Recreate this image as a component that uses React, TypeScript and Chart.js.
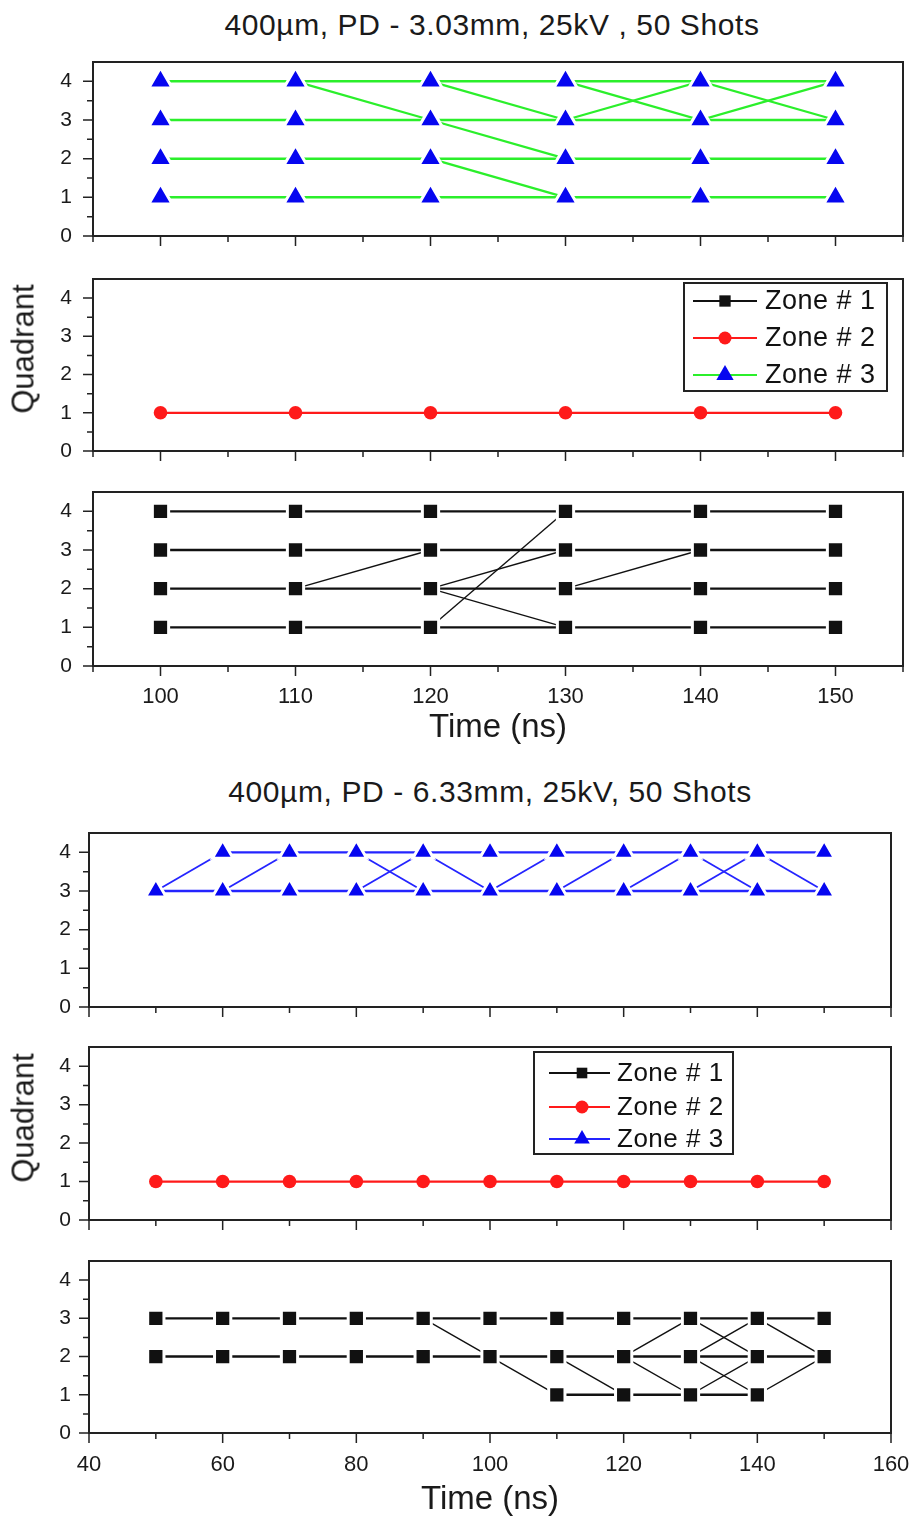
import React, { useEffect, useRef } from "react";
import { Chart, registerables } from "chart.js";

Chart.register(...registerables);

const FONT = "'Liberation Sans', Arial, Helvetica, sans-serif";
const PAGE_W = 913;
const PAD_TOP = 14;

type Q = number | null;

// ---------- PD 3.03 mm ----------
const TIME_303 = [100, 110, 120, 130, 140, 150];
const X_MAJOR_303 = [100, 110, 120, 130, 140, 150];
const X_MINOR_303 = [95, 105, 115, 125, 135, 145, 155];

// Zone # 3: quadrant held from shot to shot
const Z3_303_ROWS: Q[][] = [
  [4, 4, 4, 4, 4, 4],
  [3, 3, 3, 3, 3, 3],
  [2, 2, 2, 2, 2, 2],
  [1, 1, 1, 1, 1, 1],
];
// Zone # 3: quadrant changes
const Z3_303_JUMPS: Q[][] = [
  [null, 4, 3, 2, null, null],
  [null, null, 4, 3, null, null],
  [null, null, 2, 1, null, null],
  [null, null, null, 4, 3, 4],
  [null, null, null, 3, 4, 3],
];
const Z2_303_ROWS: Q[][] = [[1, 1, 1, 1, 1, 1]];
const Z1_303_ROWS: Q[][] = [
  [4, 4, 4, 4, 4, 4],
  [3, 3, 3, 3, 3, 3],
  [2, 2, 2, 2, 2, 2],
  [1, 1, 1, 1, 1, 1],
];
const Z1_303_JUMPS: Q[][] = [
  [null, 2, 3, null, null, null],
  [null, null, 1, 4, null, null],
  [null, null, 2, 3, null, null],
  [null, null, 2, 1, null, null],
  [null, null, null, 2, 3, null],
];

// ---------- PD 6.33 mm ----------
const TIME_633 = [50, 60, 70, 80, 90, 100, 110, 120, 130, 140, 150];
const X_MAJOR_633 = [40, 60, 80, 100, 120, 140, 160];
const X_MINOR_633 = [50, 70, 90, 110, 130, 150];

const Z3_633_ROWS: Q[][] = [
  [null, 4, 4, 4, 4, 4, 4, 4, 4, 4, 4],
  [3, 3, 3, 3, 3, 3, 3, 3, 3, 3, 3],
];
const Z3_633_JUMPS: Q[][] = [
  [3, 4, null, null, null, null, null, null, null, null, null],
  [null, 3, 4, null, null, null, null, null, null, null, null],
  [null, null, null, 3, 4, null, null, null, null, null, null],
  [null, null, null, 4, 3, null, null, null, null, null, null],
  [null, null, null, null, 4, 3, 4, null, null, null, null],
  [null, null, null, null, null, null, 3, 4, null, null, null],
  [null, null, null, null, null, null, null, 3, 4, null, null],
  [null, null, null, null, null, null, null, null, 4, 3, null],
  [null, null, null, null, null, null, null, null, 3, 4, null],
  [null, null, null, null, null, null, null, null, null, 4, 3],
];
const Z2_633_ROWS: Q[][] = [[1, 1, 1, 1, 1, 1, 1, 1, 1, 1, 1]];
const Z1_633_ROWS: Q[][] = [
  [3, 3, 3, 3, 3, 3, 3, 3, 3, 3, 3],
  [2, 2, 2, 2, 2, 2, 2, 2, 2, 2, 2],
  [null, null, null, null, null, null, 1, 1, 1, 1, null],
];
const Z1_633_JUMPS: Q[][] = [
  [null, null, null, null, 3, 2, 1, null, null, null, null],
  [null, null, null, null, null, null, 2, 1, null, null, null],
  [null, null, null, null, null, null, null, 2, 3, 2, null],
  [null, null, null, null, null, null, null, 2, 1, 2, null],
  [null, null, null, null, null, null, null, null, 2, 3, 2],
  [null, null, null, null, null, null, null, null, 2, 1, 2],
];

const Y_MAJOR = [0, 1, 2, 3, 4];
const Y_MINOR = [0.5, 1.5, 2.5, 3.5];
const Y_MAX = 4.5;

const LEGEND_LABELS = ["Zone # 1", "Zone # 2", "Zone # 3"];

// ---------- colours ----------
const BLACK = "#111111";
const RED = "#ff1a1a";
const GREEN = "#2bef2b";
const BLUE = "#0606f0";
const BLUE_LINE = "#2424ff";

type MarkerStyle = "rect" | "circle" | "triangle";

type LegendSpec = {
  box: { x: number; y: number; w: number; h: number };
  rowY: number[];
  lineX1: number;
  lineX2: number;
  markerX: number;
  textX: number;
  fontSize: number;
  items: { label: string; lineColor: string; markerColor: string; style: MarkerStyle; size: number }[];
};

type PanelSpec = {
  top: number;
  bottom: number;
  left: number;
  right: number;
  xMin: number;
  xMax: number;
  xMajor: number[];
  xMinor: number[];
  times: number[];
  rows: Q[][];
  jumps: Q[][];
  rowWidth: number;
  jumpWidth: number;
  lineColor: string;
  markerColor: string;
  markerStyle: MarkerStyle;
  markerRadius: number;
  halo: number;
  showXLabels: boolean;
  yLabelGap: number;
  xLabelGap: number;
  legend?: LegendSpec;
};

function drawMarker(ctx: CanvasRenderingContext2D, style: MarkerStyle, x: number, y: number, r: number, color: string) {
  ctx.fillStyle = color;
  ctx.beginPath();
  if (style === "rect") {
    const s = r * Math.SQRT1_2;
    ctx.rect(x - s, y - s, 2 * s, 2 * s);
  } else if (style === "triangle") {
    ctx.moveTo(x, y - r);
    ctx.lineTo(x + r * 0.866, y + r * 0.5);
    ctx.lineTo(x - r * 0.866, y + r * 0.5);
    ctx.closePath();
  } else {
    ctx.arc(x, y, r, 0, Math.PI * 2);
  }
  ctx.fill();
}

// Axis frame plus major / minor tick marks
const frameTicks = {
  id: "frameTicks",
  afterDatasetsDraw(chart: any, _args: any, o: any) {
    const { ctx, chartArea: ca, scales } = chart;
    const xs = scales.x;
    const ys = scales.y;
    ctx.save();
    ctx.strokeStyle = "#222";
    ctx.lineWidth = 1.5;
    ctx.beginPath();
    const tx = (v: number, len: number) => {
      const p = xs.getPixelForValue(v);
      ctx.moveTo(p, ca.bottom);
      ctx.lineTo(p, ca.bottom + len);
    };
    const ty = (v: number, len: number) => {
      const p = ys.getPixelForValue(v);
      ctx.moveTo(ca.left, p);
      ctx.lineTo(ca.left - len, p);
    };
    (o.xMajor || []).forEach((v: number) => tx(v, 10));
    (o.xMinor || []).forEach((v: number) => tx(v, 6));
    (o.yMajor || []).forEach((v: number) => ty(v, 10));
    (o.yMinor || []).forEach((v: number) => ty(v, 6));
    ctx.stroke();
    ctx.lineWidth = 2;
    ctx.strokeRect(ca.left, ca.top, ca.right - ca.left, ca.bottom - ca.top);
    ctx.restore();
  },
};

// Boxed legend placed inside the plot
const boxLegend = {
  id: "boxLegend",
  afterDraw(chart: any, _args: any, o: any) {
    if (!o || !o.items || !o.items.length) return;
    const { ctx } = chart;
    const dy = o.canvasTop;
    ctx.save();
    ctx.fillStyle = "#fff";
    ctx.fillRect(o.box.x, o.box.y - dy, o.box.w, o.box.h);
    ctx.lineWidth = 2;
    ctx.strokeStyle = "#222";
    ctx.strokeRect(o.box.x, o.box.y - dy, o.box.w, o.box.h);
    o.items.forEach((it: any, i: number) => {
      const y = o.rowY[i] - dy;
      ctx.strokeStyle = it.lineColor;
      ctx.lineWidth = 2;
      ctx.beginPath();
      ctx.moveTo(o.lineX1, y);
      ctx.lineTo(o.lineX2, y);
      ctx.stroke();
      drawMarker(ctx, it.style, o.markerX, y, it.size, it.markerColor);
      ctx.fillStyle = "#111";
      ctx.font = `${o.fontSize}px ${FONT}`;
      (ctx as any).letterSpacing = "0.5px";
      ctx.textBaseline = "middle";
      ctx.textAlign = "left";
      ctx.fillText(it.label, o.textX, y + 1);
    });
    ctx.restore();
  },
};

function toPoints(times: number[], path: Q[]) {
  return path.map((q, i) => ({ x: times[i], y: q }));
}

function Panel({ spec }: { spec: PanelSpec }) {
  const ref = useRef<HTMLCanvasElement>(null);
  const axisH = spec.showXLabels ? 52 : 18;
  const canvasTop = spec.top - PAD_TOP;
  const height = spec.bottom - spec.top + PAD_TOP + axisH;

  useEffect(() => {
    if (!ref.current) return;
    const { times } = spec;

    // every plotted (time, quadrant) pair gets one marker
    const seen = new Set<string>();
    const markers: { x: number; y: number }[] = [];
    [...spec.rows, ...spec.jumps].forEach((path) =>
      path.forEach((q, i) => {
        if (q == null) return;
        const k = `${times[i]}:${q}`;
        if (!seen.has(k)) {
          seen.add(k);
          markers.push({ x: times[i], y: q });
        }
      })
    );

    const lineSet = (path: Q[], width: number) => ({
      data: toPoints(times, path),
      borderColor: spec.lineColor,
      borderWidth: width,
      pointRadius: 0,
      spanGaps: false,
      tension: 0,
      fill: false,
      order: 1,
    });

    const datasets: any[] = [
      {
        data: markers,
        showLine: false,
        pointStyle: spec.markerStyle,
        pointRadius: spec.markerRadius,
        pointBackgroundColor: spec.markerColor,
        pointBorderColor: spec.halo > 0 ? "#ffffff" : spec.markerColor,
        pointBorderWidth: spec.halo,
        order: 0,
      },
      ...spec.rows.map((p) => lineSet(p, spec.rowWidth)),
      ...spec.jumps.map((p) => lineSet(p, spec.jumpWidth)),
    ];

    // invisible tick marks only set the gap between axis and labels
    const hiddenTicks = (len: number) => ({
      display: true,
      drawOnChartArea: false,
      drawTicks: true,
      tickLength: len,
      tickColor: "rgba(0,0,0,0)",
    });

    const chart = new Chart(ref.current, {
      type: "line",
      data: { datasets },
      plugins: [frameTicks, boxLegend],
      options: {
        animation: false,
        responsive: false,
        maintainAspectRatio: false,
        events: [],
        layout: {
          autoPadding: false,
          padding: { top: PAD_TOP, right: PAGE_W - spec.right, left: 0, bottom: 0 },
        },
        scales: {
          x: {
            type: "linear",
            min: spec.xMin,
            max: spec.xMax,
            afterBuildTicks: (s: any) => {
              s.ticks = spec.xMajor.map((v) => ({ value: v }));
            },
            afterFit: (s: any) => {
              s.height = axisH;
            },
            grid: hiddenTicks(spec.xLabelGap),
            border: { display: false },
            ticks: {
              display: spec.showXLabels,
              padding: 0,
              autoSkip: false,
              maxRotation: 0,
              color: "#1a1a1a",
              font: { family: FONT, size: 22 },
            },
          },
          y: {
            type: "linear",
            min: 0,
            max: Y_MAX,
            afterBuildTicks: (s: any) => {
              s.ticks = Y_MAJOR.map((v) => ({ value: v }));
            },
            afterFit: (s: any) => {
              s.width = spec.left;
            },
            grid: hiddenTicks(spec.yLabelGap),
            border: { display: false },
            ticks: {
              padding: 0,
              color: "#1a1a1a",
              font: { family: FONT, size: 21 },
            },
          },
        },
        plugins: {
          legend: { display: false },
          tooltip: { enabled: false },
          frameTicks: { xMajor: spec.xMajor, xMinor: spec.xMinor, yMajor: Y_MAJOR, yMinor: Y_MINOR },
          boxLegend: spec.legend ? { ...spec.legend, canvasTop } : { items: [] },
        } as any,
      },
    } as any);
    return () => chart.destroy();
  }, [spec]);

  return (
    <canvas
      ref={ref}
      width={PAGE_W}
      height={height}
      style={{ position: "absolute", left: 0, top: canvasTop, width: PAGE_W, height }}
    />
  );
}

const LEFT_A = 93;
const RIGHT_A = 903;
const LEFT_B = 89;
const RIGHT_B = 891;

const baseA = {
  left: LEFT_A,
  right: RIGHT_A,
  xMin: 95,
  xMax: 155,
  xMajor: X_MAJOR_303,
  xMinor: X_MINOR_303,
  times: TIME_303,
  yLabelGap: 21,
  xLabelGap: 18,
};
const baseB = {
  left: LEFT_B,
  right: RIGHT_B,
  xMin: 40,
  xMax: 160,
  xMajor: X_MAJOR_633,
  xMinor: X_MINOR_633,
  times: TIME_633,
  yLabelGap: 18,
  xLabelGap: 19,
};

const PANELS: PanelSpec[] = [
  {
    ...baseA,
    top: 62,
    bottom: 236,
    rows: Z3_303_ROWS,
    jumps: Z3_303_JUMPS,
    rowWidth: 2.5,
    jumpWidth: 2.3,
    lineColor: GREEN,
    markerColor: BLUE,
    markerStyle: "triangle",
    markerRadius: 13.5,
    halo: 3,
    showXLabels: false,
  },
  {
    ...baseA,
    top: 279,
    bottom: 451,
    rows: Z2_303_ROWS,
    jumps: [],
    rowWidth: 2.3,
    jumpWidth: 2.3,
    lineColor: RED,
    markerColor: RED,
    markerStyle: "circle",
    markerRadius: 6.8,
    halo: 0,
    showXLabels: false,
    legend: {
      box: { x: 684, y: 283, w: 203, h: 108 },
      rowY: [301, 338, 375],
      lineX1: 693,
      lineX2: 757,
      markerX: 725,
      textX: 765,
      fontSize: 27,
      items: [
        { label: LEGEND_LABELS[0], lineColor: BLACK, markerColor: BLACK, style: "rect", size: 8 },
        { label: LEGEND_LABELS[1], lineColor: RED, markerColor: RED, style: "circle", size: 6.5 },
        { label: LEGEND_LABELS[2], lineColor: GREEN, markerColor: BLUE, style: "triangle", size: 10 },
      ],
    },
  },
  {
    ...baseA,
    top: 492,
    bottom: 666,
    rows: Z1_303_ROWS,
    jumps: Z1_303_JUMPS,
    rowWidth: 2.4,
    jumpWidth: 1.4,
    lineColor: BLACK,
    markerColor: BLACK,
    markerStyle: "rect",
    markerRadius: 11.5,
    halo: 3,
    showXLabels: true,
  },
  {
    ...baseB,
    top: 833,
    bottom: 1007,
    rows: Z3_633_ROWS,
    jumps: Z3_633_JUMPS,
    rowWidth: 2.3,
    jumpWidth: 1.8,
    lineColor: BLUE_LINE,
    markerColor: BLUE,
    markerStyle: "triangle",
    markerRadius: 12,
    halo: 3,
    showXLabels: false,
  },
  {
    ...baseB,
    top: 1047,
    bottom: 1220,
    rows: Z2_633_ROWS,
    jumps: [],
    rowWidth: 2.3,
    jumpWidth: 2.3,
    lineColor: RED,
    markerColor: RED,
    markerStyle: "circle",
    markerRadius: 6.8,
    halo: 0,
    showXLabels: false,
    legend: {
      box: { x: 534, y: 1052, w: 199, h: 102 },
      rowY: [1073, 1107, 1139],
      lineX1: 549,
      lineX2: 610,
      markerX: 582,
      textX: 617,
      fontSize: 26,
      items: [
        { label: LEGEND_LABELS[0], lineColor: BLACK, markerColor: BLACK, style: "rect", size: 7.5 },
        { label: LEGEND_LABELS[1], lineColor: RED, markerColor: RED, style: "circle", size: 6.5 },
        { label: LEGEND_LABELS[2], lineColor: BLUE_LINE, markerColor: BLUE, style: "triangle", size: 9 },
      ],
    },
  },
  {
    ...baseB,
    top: 1261,
    bottom: 1433,
    rows: Z1_633_ROWS,
    jumps: Z1_633_JUMPS,
    rowWidth: 2.4,
    jumpWidth: 1.4,
    lineColor: BLACK,
    markerColor: BLACK,
    markerStyle: "rect",
    markerRadius: 11.5,
    halo: 3,
    showXLabels: true,
  },
];

const TEXTS = [
  { text: "400µm, PD - 3.03mm, 25kV , 50 Shots", x: 492, y: 25, size: 30, spacing: 0.6, rotate: false },
  { text: "Quadrant", x: 23, y: 349, size: 31, spacing: 0, rotate: true },
  { text: "Time (ns)", x: 498, y: 725, size: 33, spacing: 0, rotate: false },
  { text: "400µm, PD - 6.33mm, 25kV, 50 Shots", x: 490, y: 792, size: 30, spacing: 0.6, rotate: false },
  { text: "Quadrant", x: 23, y: 1118, size: 31, spacing: 0, rotate: true },
  { text: "Time (ns)", x: 490, y: 1497, size: 33, spacing: 0, rotate: false },
];

export default function App() {
  return (
    <div
      style={{
        position: "absolute",
        left: 0,
        top: 0,
        width: PAGE_W,
        height: 1517,
        background: "#fff",
        overflow: "hidden",
      }}
    >
      {PANELS.map((p, i) => (
        <Panel key={i} spec={p} />
      ))}
      {TEXTS.map((t, i) => (
        <div
          key={`t${i}`}
          style={{
            position: "absolute",
            left: t.x,
            top: t.y,
            transform: `translate(-50%, -50%)${t.rotate ? " rotate(-90deg)" : ""}`,
            fontFamily: FONT,
            fontSize: t.size,
            letterSpacing: t.spacing,
            lineHeight: 1,
            whiteSpace: "nowrap",
            color: "#1a1a1a",
          }}
        >
          {t.text}
        </div>
      ))}
    </div>
  );
}
